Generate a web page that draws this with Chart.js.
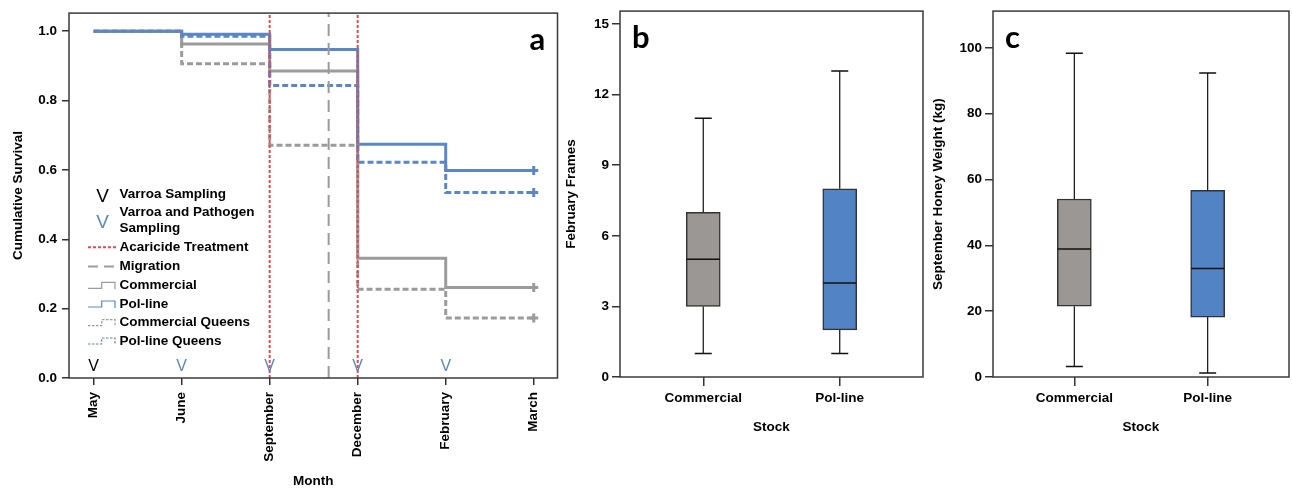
<!DOCTYPE html>
<html><head><meta charset="utf-8">
<script src="https://cdn.jsdelivr.net/npm/chart.js@4/dist/chart.umd.min.js"></script>
<style>
html,body{margin:0;padding:0;background:#fff;}
#wrap{position:relative;width:1292px;height:489px;overflow:hidden;background:#fff;}
canvas{position:absolute;top:0;}
</style></head><body>
<div id="wrap">
<canvas id="ca" style="left:0px;width:565px;height:489px" width="565" height="489"></canvas>
<canvas id="cb" style="left:560px;width:370px;height:489px" width="370" height="489"></canvas>
<canvas id="cc" style="left:930px;width:362px;height:489px" width="362" height="489"></canvas>
</div>
<script>
// ---------- data ----------
const months = ['May','June','September','December','February','March'];
const monthPos = [0,1,2,3,4,5];
const commercial       = [1.0, 0.963, 0.885, 0.345, 0.261, 0.261];
const polLine          = [1.0, 0.991, 0.947, 0.674, 0.598, 0.598];
const commercialQueens = [1.0, 0.906, 0.671, 0.256, 0.173, 0.173];
const polLineQueens    = [1.0, 0.985, 0.843, 0.622, 0.535, 0.535];
const survivalTicks = [0, 0.2, 0.4, 0.6, 0.8, 1.0];
const treatmentMonths = [2, 3];
const migrationPos = [2.67];
const samplingPos  = [0, 1, 2, 3, 4];
const samplingType = ['varroa','pathogen','pathogen','pathogen','pathogen'];

const stockLabels = ['Commercial','Pol-line'];
const stockPos = [1, 2];
const framesMin = [1, 1], framesQ1 = [3, 2], framesMedian = [5, 4], framesQ3 = [7, 8], framesMax = [11, 13];
const framesTicks = [0, 3, 6, 9, 12, 15];
const honeyMin = [3.2, 1.2], honeyQ1 = [21.5, 18.2], honeyMedian = [38.9, 33.0], honeyQ3 = [54.1, 56.7], honeyMax = [98.4, 92.4];
const honeyTicks = [0, 20, 40, 60, 80, 100];

// ---------- styles ----------
const BLUE = '#5a87c6', GRAY = '#9b9b9b', RED = '#e8464f';
const BOX_GRAY = '#9b9795', BOX_BLUE = '#5283c4';
const FONT = {family:'Liberation Sans, Arial, sans-serif', weight:'bold', size:13.5};
const TICKCOL = '#333';

const framePlugin = {id:'frame', afterDraw(chart){
  const {ctx, chartArea:a} = chart;
  ctx.save(); ctx.strokeStyle = '#3a3a3a'; ctx.lineWidth = 1.5;
  ctx.strokeRect(a.left, a.top, a.right - a.left, a.bottom - a.top);
  ctx.restore();
}};
const panelLabel = {id:'panelLabel', afterDraw(chart, args, o){
  const {ctx, chartArea:a} = chart;
  ctx.save(); ctx.fillStyle = '#000'; ctx.font = 'bold 31px Lato, sans-serif';
  ctx.textBaseline = 'alphabetic';
  const x = o.side === 'right' ? a.right - o.dx : a.left + o.dx;
  ctx.fillText(o.text, x, a.top + o.dy);
  ctx.restore();
}};

function stepDs(label, vals, color, dash, order){
  return {label, data: monthPos.map((x,i)=>({x, y: vals[i]})), borderColor: color, borderWidth: 3,
    borderDash: dash, stepped: 'before', fill: false,
    pointRadius: monthPos.map((_,i)=> i === monthPos.length-1 ? 4.5 : 0), pointStyle: 'cross',
    pointBorderWidth: 3, pointBorderColor: color, pointBackgroundColor: color, pointHoverRadius: 0, order};
}
const Y_MAX_A = 1.052;
function vline(x, color, width, dash){
  return {data:[{x, y:0},{x, y:Y_MAX_A}], borderColor: color, borderWidth: width, borderDash: dash, pointRadius: 0, fill:false, order: 0};
}

const samplingPlugin = {id:'sampling', afterDatasetsDraw(chart, args, o){
  const {ctx, scales:{x, y}} = chart;
  ctx.save(); ctx.font = '16px Liberation Sans, Arial, sans-serif'; ctx.textAlign = 'center'; ctx.textBaseline = 'middle';
  samplingPos.forEach((p,i)=>{
    ctx.fillStyle = samplingType[i] === 'varroa' ? '#000' : BLUE;
    ctx.fillText('V', x.getPixelForValue(p), y.getPixelForValue(0.032));
  });
  ctx.restore();
}};

const legendPlugin = {id:'customLegend', afterDraw(chart){
  const {ctx} = chart;
  ctx.save();
  const tx = 119.5, x0 = 88, x1 = 116;
  ctx.font = 'bold 13.5px Liberation Sans, Arial, sans-serif';
  ctx.textBaseline = 'middle'; ctx.fillStyle = '#000'; ctx.textAlign = 'left';
  const items = [
    {kind:'V', color:'#000', lines:['Varroa Sampling'], y:194, vy:197},
    {kind:'V', color:BLUE, lines:['Varroa and Pathogen','Sampling'], y:212.7, vy:223},
    {kind:'line', color:RED, width:2, dash:[3,2], lines:['Acaricide Treatment'], y:247.3},
    {kind:'line', color:GRAY, width:2, dash:[10,6], lines:['Migration'], y:266.5},
    {kind:'step', color:GRAY, dash:[], lines:['Commercial'], y:285.3},
    {kind:'step', color:BLUE, dash:[], lines:['Pol-line'], y:304},
    {kind:'step', color:GRAY, dash:[2.5,1.5], lines:['Commercial Queens'], y:322.7},
    {kind:'step', color:BLUE, dash:[2.5,1.5], lines:['Pol-line Queens'], y:341}
  ];
  items.forEach(it=>{
    ctx.fillStyle = '#000';
    it.lines.forEach((t,k)=> ctx.fillText(t, tx, it.y + k*15.6));
    if (it.kind === 'V') {
      ctx.save(); ctx.font = '19px Liberation Sans, Arial, sans-serif'; ctx.textAlign = 'center';
      ctx.fillStyle = it.color; ctx.fillText('V', 102.5, it.vy); ctx.restore();
    } else if (it.kind === 'line') {
      ctx.save(); ctx.strokeStyle = it.color; ctx.lineWidth = it.width; ctx.setLineDash(it.dash);
      ctx.beginPath(); ctx.moveTo(x0, it.y); ctx.lineTo(x1, it.y); ctx.stroke(); ctx.restore();
    } else {
      ctx.save(); ctx.strokeStyle = it.color; ctx.lineWidth = 1.2; ctx.setLineDash(it.dash);
      const yb = it.y + 3, yt = it.y - 3;
      ctx.beginPath(); ctx.moveTo(x0, yb); ctx.lineTo(101.7, yb); ctx.lineTo(101.7, yt); ctx.lineTo(115, yt); ctx.lineTo(115, yb + 1);
      ctx.stroke(); ctx.restore();
    }
  });
  ctx.restore();
}};

const tickFont = FONT;
function build(){
  // ---------- panel a ----------
  new Chart(document.getElementById('ca'), {
    type:'line',
    data:{datasets:[
      ...treatmentMonths.map(m => vline(m, RED, 2, [3,2])),
      ...migrationPos.map(m => vline(m, '#9a9a9a', 2, [12,7])),
      stepDs('Pol-line Queens', polLineQueens, BLUE, [6,3], 1),
      stepDs('Commercial Queens', commercialQueens, GRAY, [6,3], 2),
      stepDs('Pol-line', polLine, BLUE, [], 3),
      stepDs('Commercial', commercial, GRAY, [], 4)
    ]},
    options:{
      responsive:false, animation:false, events:[],
      layout:{padding:{top:10, right:6, left:0, bottom:0}},
      plugins:{legend:{display:false}, tooltip:{enabled:false}, panelLabel:{text:'a', side:'right', dx:28, dy:37}},
      scales:{
        x:{type:'linear', min:-0.28, max:5.27,
          afterBuildTicks: s => { s.ticks = monthPos.map(v => ({value:v})); },
          afterFit: s => { s.height = 111; },
          ticks:{autoSkip:false, maxRotation:90, minRotation:90, padding:7, color:'#000', font:tickFont, callback:(v,i)=>months[i]},
          grid:{drawOnChartArea:false, tickLength:7, color:TICKCOL, lineWidth:1.5}, border:{display:false},
          title:{display:true, text:'Month', color:'#000', font:FONT, padding:{top:0, bottom:0}}},
        y:{type:'linear', min:0, max:Y_MAX_A,
          afterBuildTicks: s => { s.ticks = survivalTicks.map(v => ({value:v})); },
          afterFit: s => { s.width = 69; },
          ticks:{padding:5, color:'#000', font:tickFont, callback:v => Number(v).toFixed(1)},
          grid:{drawOnChartArea:false, tickLength:7, color:TICKCOL, lineWidth:1.5}, border:{display:false},
          title:{display:true, text:'Cumulative Survival', color:'#000', font:FONT, padding:{top:10, bottom:0}}}
      }
    },
    plugins:[framePlugin, samplingPlugin, legendPlugin, panelLabel]
  });

  // ---------- box plots ----------
  const boxPlugin = {id:'whiskers', afterDatasetsDraw(chart, args, o){
    const {ctx, scales:{x, y}} = chart;
    ctx.save(); ctx.strokeStyle = '#111';
    o.pos.forEach((p,i)=>{
      const px = x.getPixelForValue(p);
      const yMin = y.getPixelForValue(o.min[i]), yQ1 = y.getPixelForValue(o.q1[i]);
      const yMed = y.getPixelForValue(o.med[i]), yQ3 = y.getPixelForValue(o.q3[i]), yMax = y.getPixelForValue(o.max[i]);
      ctx.lineWidth = 1.2;
      ctx.beginPath(); ctx.moveTo(px, yQ1); ctx.lineTo(px, yMin); ctx.moveTo(px, yQ3); ctx.lineTo(px, yMax); ctx.stroke();
      ctx.lineWidth = 1.5;
      ctx.beginPath(); ctx.moveTo(px-8.5, yMin); ctx.lineTo(px+8.5, yMin); ctx.moveTo(px-8.5, yMax); ctx.lineTo(px+8.5, yMax); ctx.stroke();
      ctx.beginPath(); ctx.moveTo(px-16.5, yMed); ctx.lineTo(px+16.5, yMed); ctx.stroke();
    });
    ctx.restore();
  }};
  function boxChart(id, q1, q3, mn, md, mx, ticks, yMax, yTitle, yW, padR, titlePad, label){
    return new Chart(document.getElementById(id), {
      type:'bar',
      data:{datasets:[{data: stockPos.map((x,i)=>({x, y:[q1[i], q3[i]]})),
        backgroundColor:[BOX_GRAY, BOX_BLUE], borderColor:'#333', borderWidth:1.5, borderSkipped:false, barThickness:34}]},
      options:{
        responsive:false, animation:false, events:[],
        layout:{padding:{top:10, right:padR, left:0, bottom:0}},
        plugins:{legend:{display:false}, tooltip:{enabled:false},
          whiskers:{pos:stockPos, min:mn, q1, med:md, q3, max:mx},
          panelLabel:{text:label, side:'left', dx:12, dy:37}},
        scales:{
          x:{type:'linear', min:0.39, max:2.61, offset:false,
            afterBuildTicks: s => { s.ticks = stockPos.map(v => ({value:v})); },
            afterFit: s => { s.height = 112; },
            ticks:{autoSkip:false, maxRotation:0, minRotation:0, padding:4, color:'#000', font:tickFont, callback:(v,i)=>stockLabels[i]},
            grid:{drawOnChartArea:false, offset:false, tickLength:9, color:TICKCOL, lineWidth:1.5}, border:{display:false},
            title:{display:true, text:'Stock', color:'#000', font:FONT, padding:{top:0, bottom:54}}},
          y:{type:'linear', min:0, max:yMax, beginAtZero:true,
            afterBuildTicks: s => { s.ticks = ticks.map(v => ({value:v})); },
            afterFit: s => { s.width = yW; },
            ticks:{padding:3, color:'#000', font:tickFont},
            grid:{drawOnChartArea:false, tickLength:8, color:TICKCOL, lineWidth:1.5}, border:{display:false},
            title:{display:true, text:yTitle, color:'#000', font:FONT, padding:{top:titlePad, bottom:0}}}
        }
      },
      plugins:[framePlugin, boxPlugin, panelLabel]
    });
  }
  boxChart('cb', framesQ1, framesQ3, framesMin, framesMedian, framesMax, framesTicks, 15.55, 'February Frames', 60, 7, 3.6, 'b');
  boxChart('cc', honeyQ1, honeyQ3, honeyMin, honeyMedian, honeyMax, honeyTicks, 111.2, 'September Honey Weight (kg)', 63, 3, 0, 'c');
}
Promise.all([
  document.fonts.load('bold 13.5px "Liberation Sans"'),
  document.fonts.load('16px "Liberation Sans"'),
  document.fonts.load('bold 31px Lato')
]).then(build, build);
</script>
</body></html>
